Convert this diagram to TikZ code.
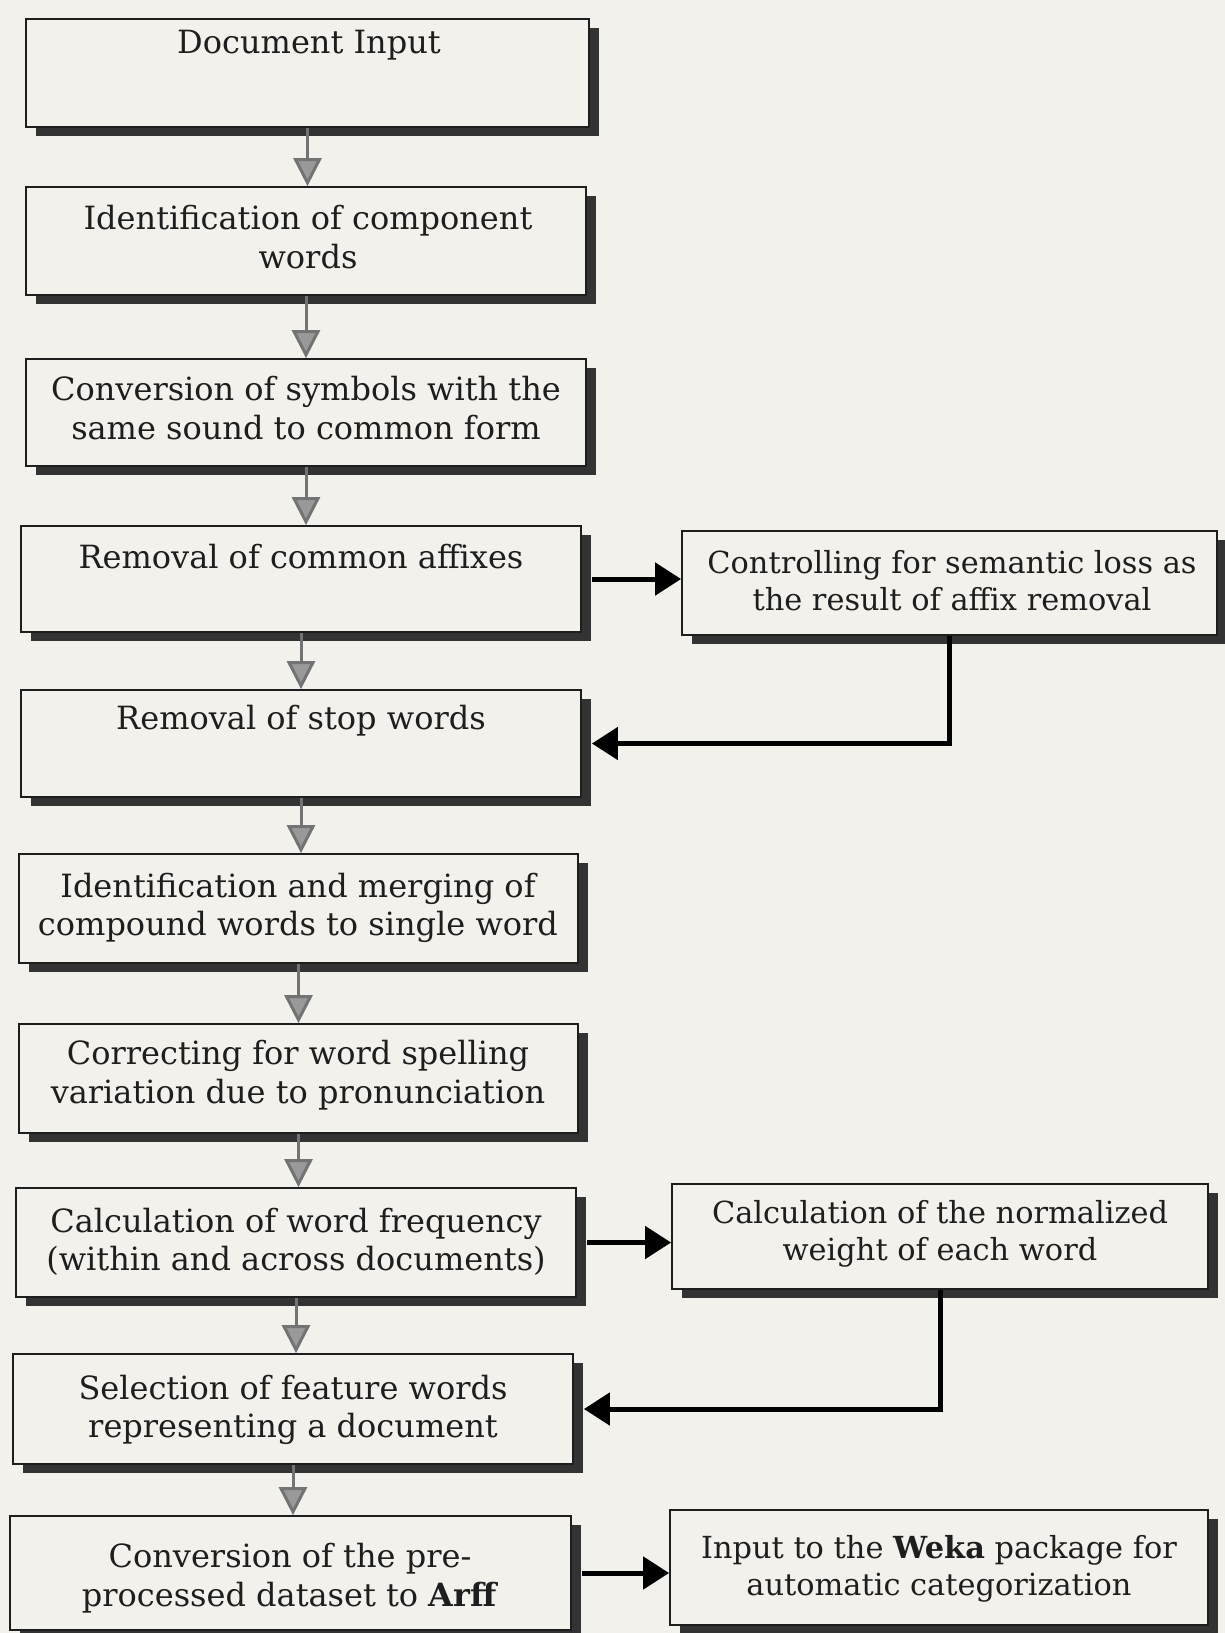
\documentclass[tikz,border=0pt]{standalone}
\usepackage{fontspec}
\setmainfont{DejaVu Serif}
\usetikzlibrary{arrows.meta,fit,shadows}
\definecolor{paper}{RGB}{243,241,235}
\definecolor{ink}{RGB}{30,30,30}
\begin{document}
\begin{tikzpicture}[x=0.5pt,y=-0.5pt,
  box/.style={draw=ink, line width=0.9pt, fill=paper, inner sep=0pt,
    drop shadow={shadow xshift=5pt, shadow yshift=-4.5pt, fill=black!80, opacity=1}},
  lbl/.style={font=\fontsize{16}{19.3}\selectfont, align=center, inner sep=0pt, text=ink},
  sidelbl/.style={lbl, font=\fontsize{15.2}{18.5}\selectfont},
  flow/.style={draw=black!55, line width=1.5pt, -{Triangle[length=14pt,width=14pt,fill=black!40]}},
  link/.style={draw=black, line width=2.5pt, -{Triangle[length=13pt,width=16pt]}}]
\useasboundingbox (0,0) rectangle (1225,1633);
\fill[paper] (0,0) rectangle (1225,1633);

% main column boxes
\node[box, fit={(26,19) (589,127)}] (b1) {};
\node[box, fit={(26,187) (586,295)}] (b2) {};
\node[box, fit={(26,359) (586,466)}] (b3) {};
\node[box, fit={(21,526) (581,632)}] (b4) {};
\node[box, fit={(21,690) (581,797)}] (b5) {};
\node[box, fit={(19,854) (578,963)}] (b6) {};
\node[box, fit={(19,1024) (578,1133)}] (b7) {};
\node[box, fit={(16,1188) (576,1297)}] (b8) {};
\node[box, fit={(13,1354) (573,1464)}] (b9) {};
\node[box, fit={(10,1516) (571,1630)}] (b10) {};
% side boxes
\node[box, fit={(682,531) (1217,635)}] (s1) {};
\node[box, fit={(672,1184) (1208,1289)}] (s2) {};
\node[box, fit={(670,1510) (1208,1625)}] (s3) {};

% texts
\node[lbl] (t1) at (309,45) {Document Input};
\node[lbl] (t2) at (308,237) {Identification of component\\words};
\node[lbl] (t3) at (306,408) {Conversion of symbols with the\\same sound to common form};
\node[lbl] (t4) at (301,557) {Removal of common affixes};
\node[lbl] (t5) at (301,721) {Removal of stop words};
\node[lbl] (t6) at (298,908) {Identification and merging of\\compound words to single word};
\node[lbl] (t7) at (298,1075) {Correcting for word spelling\\variation due to pronunciation};
\node[lbl] (t8) at (296,1242) {Calculation of word frequency\\(within and across documents)};
\node[lbl] (t9) at (293,1410) {Selection of feature words\\representing a document};
\node[lbl] (t10) at (290,1578) {Conversion of the pre-\\processed dataset to \textbf{Arff}};
\node[sidelbl] (ts1) at (952,581) {Controlling for semantic loss as\\the result of affix removal};
\node[sidelbl] (ts2) at (940,1234) {Calculation of the normalized\\weight of each word};
\node[sidelbl] (ts3) at (939,1569) {Input to the \textbf{Weka} package for\\automatic categorization};

% main flow
\draw[flow] (b1.south) -- (b1.south |- b2.north);
\draw[flow] (b2.south) -- (b2.south |- b3.north);
\draw[flow] (b3.south) -- (b3.south |- b4.north);
\draw[flow] (b4.south) -- (b4.south |- b5.north);
\draw[flow] (b5.south) -- (b5.south |- b6.north);
\draw[flow] (b6.south) -- (b6.south |- b7.north);
\draw[flow] (b7.south) -- (b7.south |- b8.north);
\draw[flow] (b8.south) -- (b8.south |- b9.north);
\draw[flow] (b9.south) -- (b9.south |- b10.north);

% side links
\draw[link] ([xshift=5pt]b4.east) -- (b4.east -| s1.west);
\draw[link] (s1.south) |- ([xshift=5pt]b5.east);
\draw[link] ([xshift=5pt]b8.east) -- (b8.east -| s2.west);
\draw[link] (s2.south) |- ([xshift=5pt]b9.east);
\draw[link] ([xshift=5pt]b10.east) -- (b10.east -| s3.west);
\end{tikzpicture}
\end{document}
